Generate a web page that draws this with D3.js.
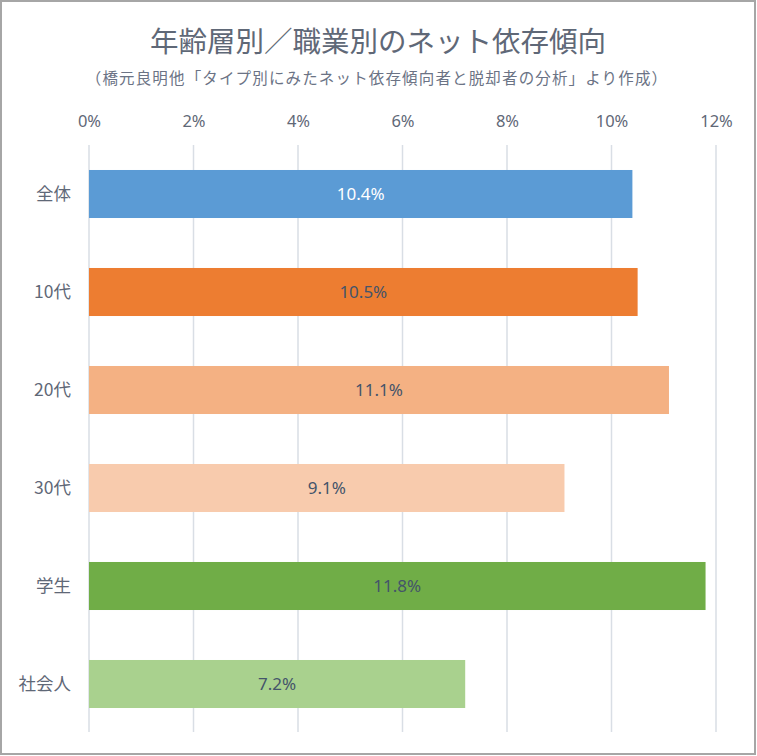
<!DOCTYPE html>
<html><head><meta charset="utf-8">
<script src="https://cdn.jsdelivr.net/npm/d3@7"></script>
<style>
html,body{margin:0;padding:0;background:#fff;}
svg text{font-family:"Noto Sans CJK JP","Noto Sans",sans-serif;}
</style></head>
<body>
<svg id="chart" width="757" height="756"></svg>
<script>
const categories = ["全体","10代","20代","30代","学生","社会人"];
const values = [10.4, 10.5, 11.1, 9.1, 11.8, 7.2];
const colors = ["#5B9BD5","#ED7D31","#F4B183","#F8CBAD","#70AD47","#A9D18E"];
const labelColors = ["#ffffff","#44546A","#44546A","#44546A","#44546A","#44546A"];
const ticks = [0,2,4,6,8,10,12];
const title = "年齢層別／職業別のネット依存傾向";
const subtitle = "（橋元良明他「タイプ別にみたネット依存傾向者と脱却者の分析」より作成）";

const svg = d3.select("#chart");
const W = 757, H = 756;
svg.append("rect").attr("x",1).attr("y",1).attr("width",W-3).attr("height",H-3)
  .attr("fill","#fff").attr("stroke","#a6a6a6").attr("stroke-width",2);

const x = d3.scaleLinear().domain([0,12]).range([89,716]);
const y = d3.scaleBand().domain(categories).range([145,733]).paddingInner(0.51).paddingOuter(0.255);

svg.append("text").attr("x",378).attr("y",52).attr("text-anchor","middle")
  .attr("font-size",28.5).attr("fill","#5F6877").text(title);
svg.append("text").attr("x",377).attr("y",84).attr("text-anchor","middle")
  .attr("font-size",15.5).attr("letter-spacing",1.15).attr("fill","#6B7385").text(subtitle);

// gridlines
svg.append("g").selectAll("line").data(ticks).join("line")
  .attr("x1",d=>x(d)).attr("x2",d=>x(d)).attr("y1",145).attr("y2",732)
  .attr("stroke","#D9DEE5").attr("stroke-width",1.5);

// top axis
const axis = d3.axisTop(x).tickValues(ticks).tickFormat(d=>d+"%").tickSize(0).tickPadding(0);
const ag = svg.append("g").attr("transform","translate(0,127)").call(axis);
ag.select(".domain").remove();
ag.selectAll("text").attr("font-size",16.5).attr("fill","#5F6877")
  .style("font-family","'Noto Sans','Liberation Sans',sans-serif");

// category axis
const yAxis = d3.axisLeft(y).tickSize(0).tickPadding(18);
const yg = svg.append("g").attr("transform","translate(89,0)").call(yAxis);
yg.select(".domain").remove();
yg.selectAll("text").attr("font-size",17.5).attr("fill","#5F6877");

// bars
svg.append("g").selectAll("rect").data(values).join("rect")
  .attr("x",x(0)).attr("y",(d,i)=>y(categories[i]))
  .attr("width",d=>x(d)-x(0)).attr("height",y.bandwidth())
  .attr("fill",(d,i)=>colors[i]);

svg.append("g").selectAll("text").data(values).join("text")
  .attr("x",d=>(x(0)+x(d))/2).attr("y",(d,i)=>y(categories[i])+y.bandwidth()/2)
  .attr("dy","0.35em").attr("text-anchor","middle").attr("font-size",17)
  .style("font-family","'Noto Sans','Liberation Sans',sans-serif")
  .attr("fill",(d,i)=>labelColors[i]).text(d=>d.toFixed(1)+"%");
</script>
</body></html>
